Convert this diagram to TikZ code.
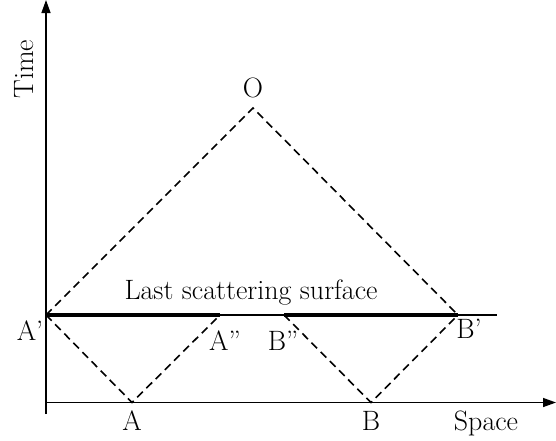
\documentclass[tikz,border=0pt]{standalone}
\usepackage{fontspec}
\setmainfont{Latin Modern Roman}
\usetikzlibrary{arrows.meta}
\begin{document}
\begin{tikzpicture}[x=1pt,y=-1pt,
  lbl/.style={font=\fontsize{28}{32}\selectfont, inner sep=0pt, anchor=base},
  axis/.style={line width=1.4pt, -{Triangle[length=13pt,width=9pt]}},
  ray/.style={line width=1.6pt, dash pattern=on 8pt off 5pt},
  surf/.style={line width=1.4pt},
  thickseg/.style={line width=3.5pt}]
\useasboundingbox (0,0) rectangle (556,440);
\coordinate (orig) at (46,402.5);
\coordinate (ytop) at (46,0);
\coordinate (ybot) at (46,414);
\coordinate (xend) at (556,402.5);
\coordinate (O) at (253,108);
\coordinate (Ap) at (46,315);
\coordinate (App) at (220,315);
\coordinate (Bpp) at (284,315);
\coordinate (Bp) at (458,315);
\coordinate (Send) at (497,315);
\coordinate (A) at (132,402.5);
\coordinate (B) at (371,402.5);
% axes
\draw[axis] (ybot) -- (ytop);
\draw[axis] (orig) -- (xend);
% surface
\draw[surf] (Ap) -- (Send);
\draw[thickseg] (Ap) -- (App);
\draw[thickseg] (Bpp) -- (Bp);
% light rays
\draw[ray] (Ap) -- (O) -- (Bp);
\draw[ray] (Ap) -- (A) -- (App);
\draw[ray] (Bpp) -- (B) -- (Bp);
% labels
\node[lbl, rotate=90] (tlab) at (33,69) {Time};
\node[lbl] (olab) at (253,97) {O};
\node[lbl] (slab) at (251,299) {Last scattering surface};
\node[lbl] (aplab) at (30,340) {A’};
\node[lbl] (applab) at (225,350) {A”};
\node[lbl] (bpplab) at (283,350) {B”};
\node[lbl] (bplab) at (469,338) {B’};
\node[lbl] (alab) at (132,430) {A};
\node[lbl] (blab) at (371,430) {B};
\node[lbl] (spacelab) at (486,430) {Space};
\end{tikzpicture}
\end{document}
